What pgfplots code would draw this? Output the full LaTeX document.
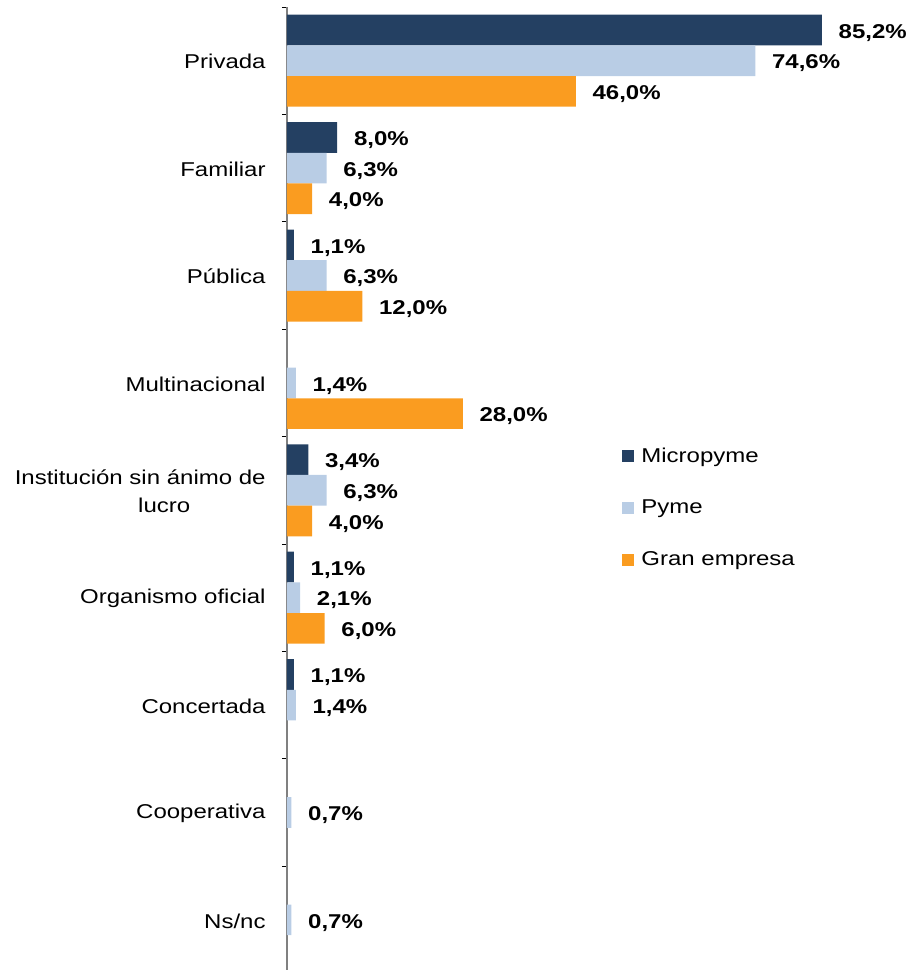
\documentclass[border=0pt]{standalone}
\usepackage{fontspec}
\setmainfont{Liberation Sans}[FakeStretch=1.2]
\usepackage{pgfplots}
\pgfplotsset{compat=1.18}
\definecolor{micro}{RGB}{36,64,98}
\definecolor{pyme}{RGB}{185,205,229}
\definecolor{gran}{RGB}{250,156,32}
\definecolor{axisgray}{RGB}{128,128,128}
\begin{document}
\begin{tikzpicture}[font=\fontsize{10}{14}\selectfont]
\begin{axis}[
  at={(0,0)}, anchor=south west,
  scale only axis, width=312pt, height=483.3pt,
  xmin=0, xmax=99.4, ymin=-0.5, ymax=8.5, y dir=reverse,
  xbar, bar width=0.2856,
  axis x line=none, axis y line*=left,
  axis line style={draw=axisgray, line width=0.9pt},
  ytick={0,...,8},
  yticklabels={Privada,Familiar,Pública,Multinacional,{Institución sin ánimo de\\\hspace*{24pt}lucro},Organismo oficial,Concertada,Cooperativa,Ns/nc},
  major tick length=0pt,
  minor ytick={-0.5,0.5,...,8.5}, minor tick length=2.5pt, tick align=outside,
  minor tick style={black, line width=0.5pt},
  yticklabel style={inner sep=0pt, xshift=-10.5pt, yshift=-0.5pt, align=center, font=\fontsize{10}{14}\selectfont},
  clip=false,
  nodes near coords={\pgfmathprintnumber[fixed,fixed zerofill,precision=1,use comma,assume math mode=true]{\pgfplotspointmeta}\%},
  nodes near coords align=horizontal,
  every node near coord/.append style={font=\fontsize{10}{14}\selectfont\bfseries, anchor=west, inner sep=0pt, text height=7.2pt, text depth=0pt, xshift=8.2pt, yshift=-0.5pt, text=black},
  legend style={at={(0.5369,0.4817)}, anchor=west, draw=none, fill=none, inner sep=0pt, row sep=13.35pt, font=\fontsize{10}{14}\selectfont, cells={anchor=west}},
  legend cell align=left,
  legend image code/.code={\path[#1] (0pt,-3pt) rectangle (6pt,3pt); \path (7.5pt,0pt);},
]
\addplot[fill=micro, draw=none, bar shift=-0.2856] coordinates {(85.2,0) (8.0,1) (1.1,2) (3.4,4) (1.1,5) (1.1,6)};
\addplot[fill=pyme, draw=none, bar shift=0] coordinates {(74.6,0) (6.3,1) (6.3,2) (1.4,3) (6.3,4) (2.1,5) (1.4,6) (0.7,7) (0.7,8)};
\addplot[fill=gran, draw=none, bar shift=0.2856] coordinates {(46.0,0) (4.0,1) (12.0,2) (28.0,3) (4.0,4) (6.0,5)};
\legend{Micropyme, Pyme, Gran empresa}
\end{axis}
\pgfresetboundingbox
\useasboundingbox (-143.5pt,1.8pt) rectangle (312pt,486.8pt);
\end{tikzpicture}
\end{document}
